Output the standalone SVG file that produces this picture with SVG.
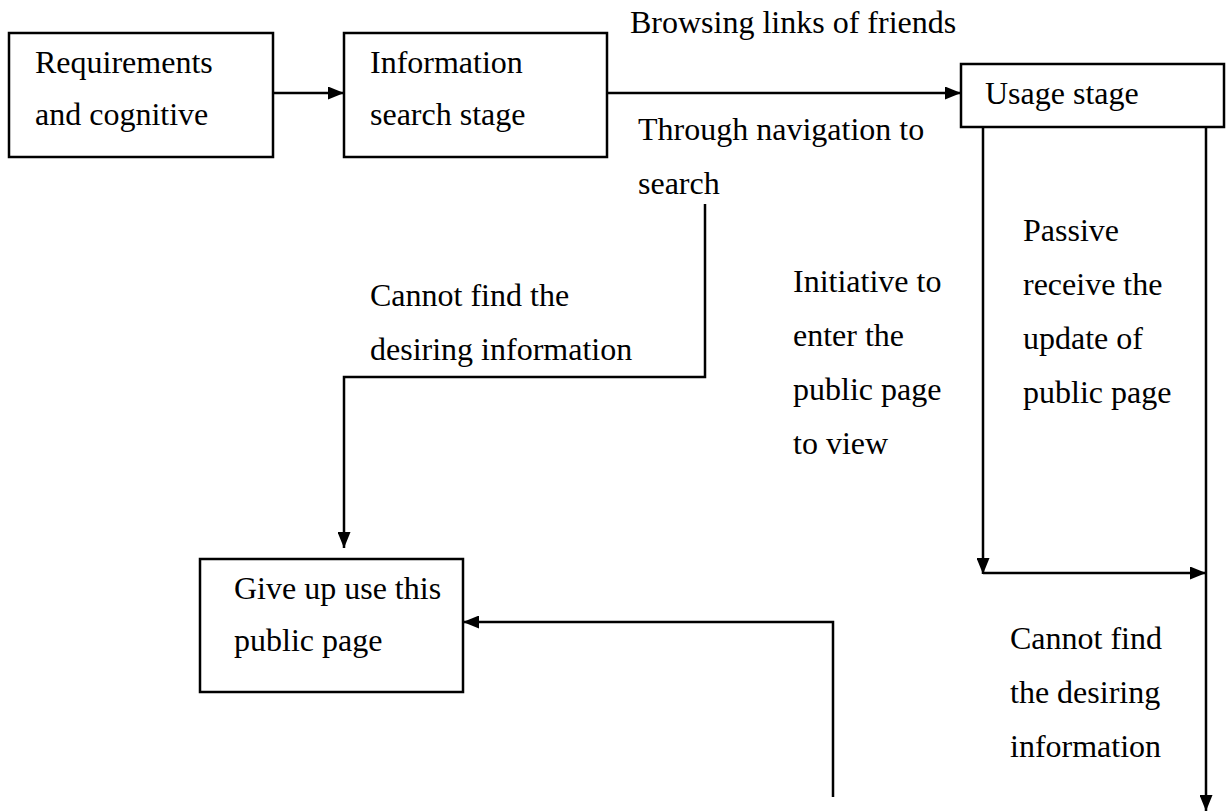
<svg xmlns="http://www.w3.org/2000/svg" width="1228" height="812" viewBox="0 0 1228 812">
  <style>
    .box { fill: #fff; stroke: #000; stroke-width: 2.5; }
    .lbl { font-family: "Liberation Serif", "Times New Roman", serif; font-size: 32px; fill: #000; }
    .wire { fill: none; stroke: #000; stroke-width: 2.5; }
  </style>
  <defs>
    <marker id="head" viewBox="0 0 16 13" markerWidth="16" markerHeight="13" refX="16" refY="6.5" orient="auto" markerUnits="userSpaceOnUse">
      <path d="M0,0 L16,6.5 L0,13 z" fill="#000"/>
    </marker>
  </defs>

  <rect width="1228" height="812" fill="#fff"/>

  <!-- connectors -->
  <g id="connectors">
    <line class="wire" x1="273" y1="93" x2="344" y2="93" marker-end="url(#head)"/>
    <line class="wire" x1="607" y1="93" x2="961" y2="93" marker-end="url(#head)"/>
    <polyline class="wire" points="705,204 705,377 344,377 344,548" marker-end="url(#head)"/>
    <line class="wire" x1="983" y1="127" x2="983" y2="574" marker-end="url(#head)"/>
    <line class="wire" x1="983" y1="573" x2="1206" y2="573" marker-end="url(#head)"/>
    <line class="wire" x1="1206" y1="127" x2="1206" y2="811" marker-end="url(#head)"/>
    <polyline class="wire" points="833,797 833,622 463,622" marker-end="url(#head)"/>
  </g>

  <!-- connector labels -->
  <g id="labels">
    <text class="lbl" x="630" y="33">Browsing links of friends</text>
    <text class="lbl" x="638" y="140">Through navigation to</text>
    <text class="lbl" x="638" y="194">search</text>
    <text class="lbl" x="370" y="306">Cannot find the</text>
    <text class="lbl" x="370" y="360">desiring information</text>
    <text class="lbl" x="793" y="292">Initiative to</text>
    <text class="lbl" x="793" y="346">enter the</text>
    <text class="lbl" x="793" y="400">public page</text>
    <text class="lbl" x="793" y="454">to view</text>
    <text class="lbl" x="1023" y="241">Passive</text>
    <text class="lbl" x="1023" y="295">receive the</text>
    <text class="lbl" x="1023" y="349">update of</text>
    <text class="lbl" x="1023" y="403">public page</text>
    <text class="lbl" x="1010" y="649">Cannot find</text>
    <text class="lbl" x="1010" y="703">the desiring</text>
    <text class="lbl" x="1010" y="757">information</text>
  </g>

  <!-- nodes -->
  <g id="requirements">
    <rect class="box" x="9" y="33" width="264" height="124"/>
    <text class="lbl" x="35" y="73">Requirements</text>
    <text class="lbl" x="35" y="125">and cognitive</text>
  </g>
  <g id="search-stage">
    <rect class="box" x="344" y="33" width="263" height="124"/>
    <text class="lbl" x="370" y="73">Information</text>
    <text class="lbl" x="370" y="125">search stage</text>
  </g>
  <g id="usage-stage">
    <rect class="box" x="961" y="64" width="263" height="63"/>
    <text class="lbl" x="985" y="104">Usage stage</text>
  </g>
  <g id="give-up">
    <rect class="box" x="200" y="559" width="263" height="133"/>
    <text class="lbl" x="234" y="599">Give up use this</text>
    <text class="lbl" x="234" y="651">public page</text>
  </g>
</svg>
